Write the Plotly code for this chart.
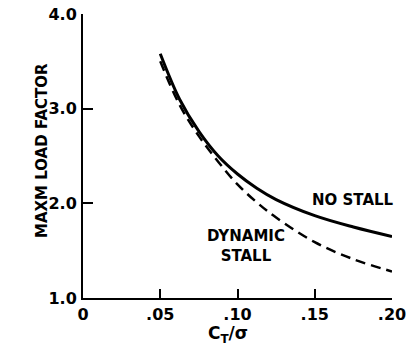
import plotly.graph_objects as go

# Thrust coefficient / solidity
ct_sigma = [0.05, 0.0625, 0.075, 0.0875, 0.10, 0.1125, 0.125, 0.15, 0.175, 0.20]

# Maximum load factor without stall
no_stall = [3.58, 3.10, 2.76, 2.50, 2.31, 2.16, 2.04, 1.87, 1.75, 1.65]

# Maximum load factor limited by dynamic stall
dynamic_stall = [3.50, 3.04, 2.71, 2.44, 2.20, 2.01, 1.85, 1.59, 1.41, 1.28]

x_ticks = [0, 0.05, 0.10, 0.15, 0.20]
x_tick_text = ["0", ".05", ".10", ".15", ".20"]
y_ticks = [1, 2, 3, 4]
y_tick_text = ["1.0", "2.0", "3.0", "4.0"]

FONT = "DejaVu Sans"

fig = go.Figure()

fig.add_trace(go.Scatter(
    x=ct_sigma, y=no_stall, mode="lines",
    line=dict(color="black", width=3, shape="spline", smoothing=1),
    showlegend=False, hoverinfo="skip",
))
fig.add_trace(go.Scatter(
    x=ct_sigma, y=dynamic_stall, mode="lines",
    line=dict(color="black", width=2.5, dash="10px,6px", shape="spline", smoothing=1),
    showlegend=False, hoverinfo="skip",
))

axis_common = dict(
    showgrid=False, zeroline=False, showline=True,
    linecolor="black", linewidth=2,
    ticks="inside", tickcolor="black", tickwidth=2,
    tickfont=dict(family=FONT, size=16, color="black", weight="bold"),
)

fig.update_xaxes(
    range=[0, 0.2], tickvals=x_ticks, ticktext=x_tick_text,
    ticklen=9, ticklabelstandoff=1, **axis_common,
)
fig.update_yaxes(
    range=[1, 4], tickvals=y_ticks, ticktext=y_tick_text,
    ticklen=10, ticklabelstandoff=1, **axis_common,
)

text_font = dict(family=FONT, size=15, color="black", weight="bold")

fig.add_annotation(
    x=0.1747, y=2.03, xref="x", yref="y", text="NO STALL",
    showarrow=False, font=text_font,
)
fig.add_annotation(
    x=0.1055, y=1.55, xref="x", yref="y", text="DYNAMIC<br>STALL",
    showarrow=False, font=text_font, align="center",
)

# Axis titles
fig.add_annotation(
    x=0, y=0.5, xref="paper", yref="paper", xshift=-52, yshift=5,
    text="MAXM LOAD FACTOR", textangle=-90, showarrow=False,
    font=dict(family=FONT, size=15, color="black", weight="bold"),
)
fig.add_annotation(
    x=0.0937, y=0, xref="x", yref="paper", yshift=-50,
    text="C<sub>T</sub>/σ", showarrow=False,
    font=dict(family=FONT, size=17, color="black", weight="bold"),
)

fig.update_layout(
    width=415, height=361,
    margin=dict(l=83, r=23, t=14, b=63, autoexpand=False),
    paper_bgcolor="white", plot_bgcolor="white",
)

fig.write_html("out.html")
